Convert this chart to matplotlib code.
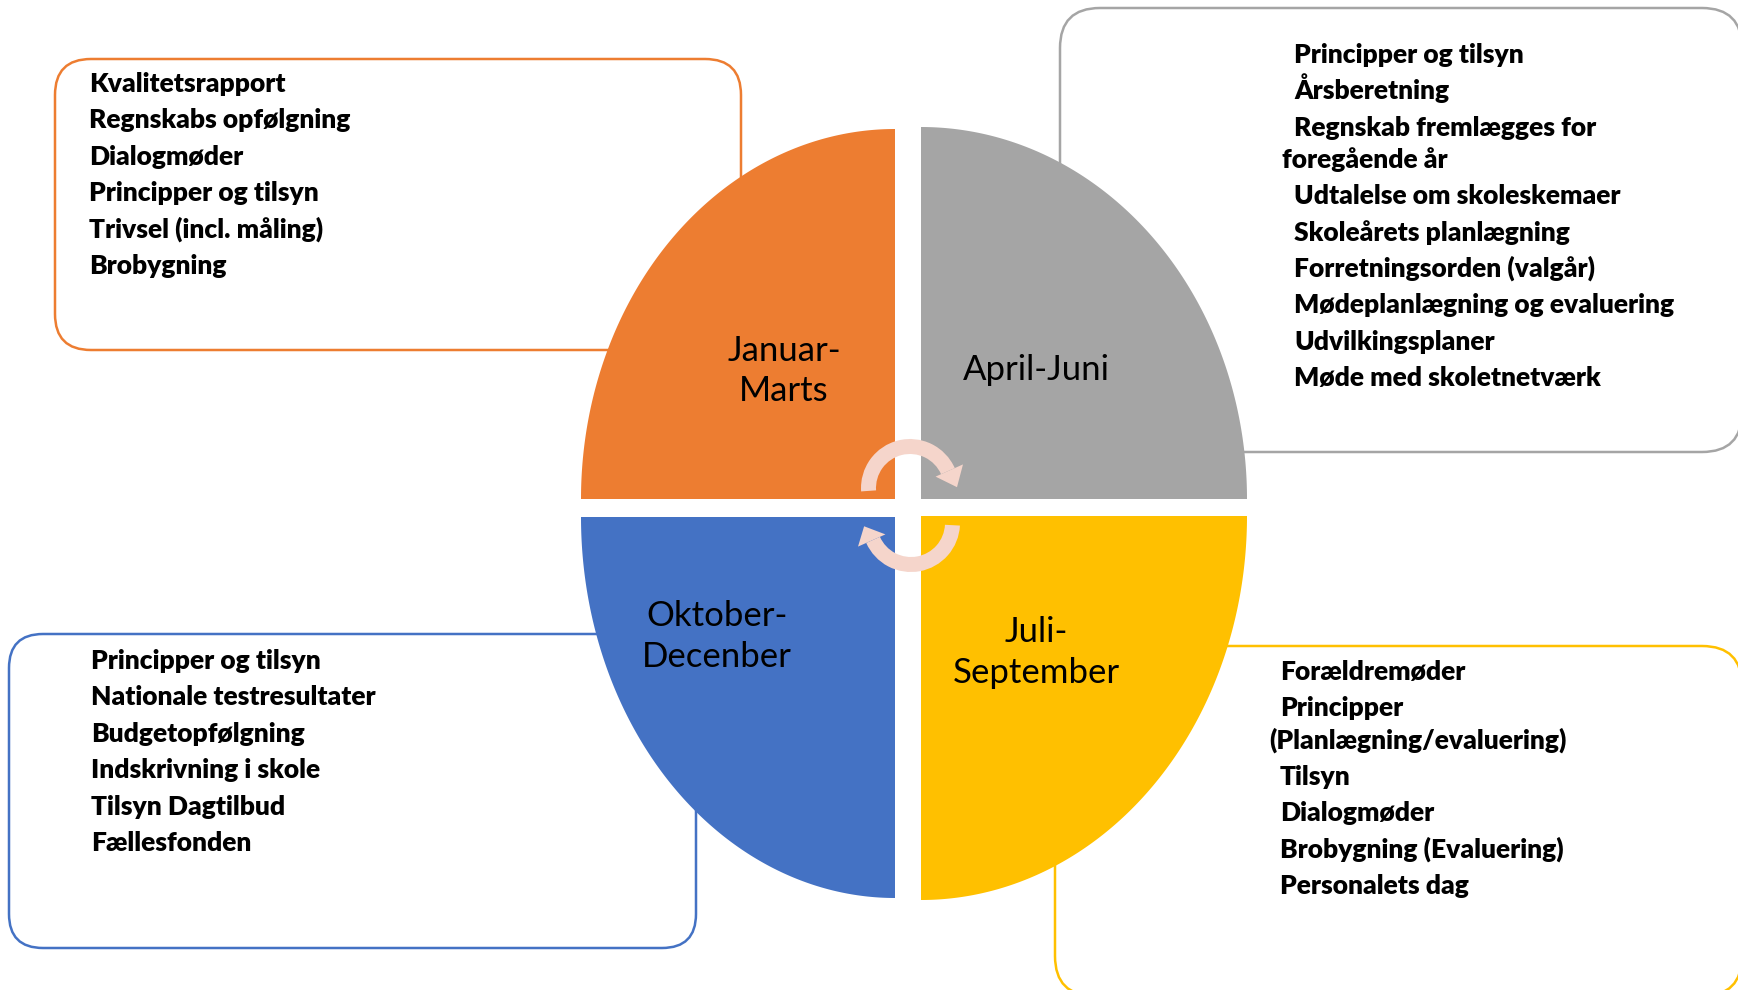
import numpy as np
import matplotlib.pyplot as plt
from matplotlib.patches import Polygon, Wedge, FancyBboxPatch

# Tekst i de fire kvartaler
quarter_names = ["Januar-\nMarts", "April-Juni", "Oktober-\nDecenber", "Juli-\nSeptember"]
quarter_colors = ["#ED7D31", "#A5A5A5", "#4472C4", "#FFC000"]

jan_items = ["Kvalitetsrapport", "Regnskabs opfølgning", "Dialogmøder",
             "Principper og tilsyn", "Trivsel (incl. måling)", "Brobygning"]
apr_items = ["Principper og tilsyn", "Årsberetning",
             "Regnskab fremlægges for\nforegående år",
             "Udtalelse om skoleskemaer", "Skoleårets planlægning",
             "Forretningsorden (valgår)", "Mødeplanlægning og evaluering",
             "Udvilkingsplaner", "Møde med skoletnetværk"]
jul_items = ["Forældremøder", "Principper\n(Planlægning/evaluering)", "Tilsyn",
             "Dialogmøder", "Brobygning (Evaluering)", "Personalets dag"]
okt_items = ["Principper og tilsyn", "Nationale testresultater", "Budgetopfølgning",
             "Indskrivning i skole", "Tilsyn Dagtilbud", "Fællesfonden"]

W, H = 1738, 990
fig = plt.figure(figsize=(W / 100, H / 100), dpi=100)
ax = fig.add_axes([0, 0, 1, 1])
ax.set_xlim(0, W)
ax.set_ylim(H, 0)
ax.axis('off')

FONT = 'Lato'


def box(x0, y0, x1, y1, color, r):
    p = FancyBboxPatch((x0, y0), x1 - x0, y1 - y0,
                       boxstyle=f"round,pad=0,rounding_size={r}",
                       facecolor='white', edgecolor=color, linewidth=1.8, zorder=1)
    ax.add_patch(p)


def items(lines, x_first, x_cont, y0, para_gap=36.4, line_gap=32):
    y = y0
    for item in lines:
        parts = item.split('\n')
        for k, part in enumerate(parts):
            ax.text(x_first if k == 0 else x_cont, y, part, fontsize=19,
                    fontweight='heavy', family=FONT, va='baseline', ha='left', zorder=5)
            if k < len(parts) - 1:
                y += line_gap
        y += para_gap


def quarter(cx, cy, rx, ry, sx, sy, color):
    t = np.linspace(0, np.pi / 2, 200)
    pts = [(cx, cy)] + list(zip(cx + sx * rx * np.cos(t), cy + sy * ry * np.sin(t)))
    ax.add_patch(Polygon(pts, closed=True, facecolor=color, edgecolor='none', zorder=2))


def label(text, x, y0, gap=40):
    for k, part in enumerate(text.split('\n')):
        ax.text(x, y0 + k * gap, part, fontsize=25, family=FONT,
                ha='center', va='baseline', zorder=5)


def circ_arrow(cx, cy, r_in, r_out, phi_a, phi_b, head_phi, tip_phi, color):
    # vinkler på skærmen (mod uret, y op); aksen er vendt, så data-vinkel = -phi
    ax.add_patch(Wedge((cx, cy), r_out, -phi_b, -phi_a, width=r_out - r_in,
                       facecolor=color, edgecolor='none', zorder=3))

    def pt(r, phi):
        a = np.deg2rad(phi)
        return (cx + r * np.cos(a), cy - r * np.sin(a))

    head = [pt(r_in - 6, head_phi), pt(r_out + 9, head_phi), pt(47, tip_phi)]
    ax.add_patch(Polygon(head, closed=True, facecolor=color, edgecolor='none', zorder=3))


# Bokse
box(55, 59, 741, 350, quarter_colors[0], 36)
box(1060, 8, 1742, 452, quarter_colors[1], 40)
box(9, 634, 696, 948, quarter_colors[2], 34)
box(1055, 646, 1742, 996, quarter_colors[3], 40)

# Kvartaler af ellipsen
quarter(895, 499, 314, 370, -1, -1, quarter_colors[0])
quarter(921, 499, 326, 372, 1, -1, quarter_colors[1])
quarter(895, 517, 314, 381, -1, 1, quarter_colors[2])
quarter(921, 516, 326, 384, 1, 1, quarter_colors[3])

# Pile i midten
arrow_color = "#F5D5CB"
circ_arrow(910, 488, 34, 49, 24, 184, 24, 1, arrow_color)
circ_arrow(911, 523, 34, 49, 204, 357, 204, 184, arrow_color)

# Kvartalsnavne
label(quarter_names[0], 784, 361)
label(quarter_names[1], 1036, 380)
label(quarter_names[2], 717, 626, gap=41)
label(quarter_names[3], 1036, 642, gap=41)

# Punkter
items(jan_items, 89, 89, 92)
items(apr_items, 1294, 1282, 63)
items(jul_items, 1280, 1269, 680)
items(okt_items, 91, 91, 669)

plt.savefig('out.png', dpi=100)
